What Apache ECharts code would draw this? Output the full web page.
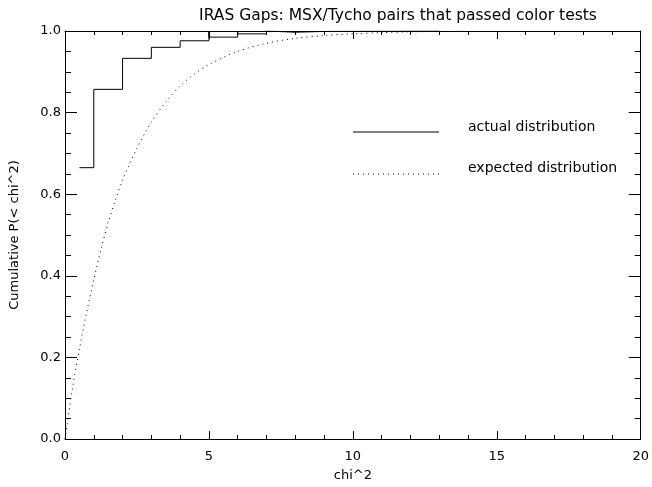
<!DOCTYPE html>
<html>
<head>
<meta charset="utf-8">
<script src="https://cdn.jsdelivr.net/npm/echarts@6/dist/echarts.min.js"></script>
<style>
  html, body { margin: 0; padding: 0; background: #fff; }
  #main { width: 652px; height: 487px; }
</style>
</head>
<body>
<div id="main"></div>
<script>
// actual distribution: bin edges and cumulative values (step plot)
const actualEdges = [0.5, 1, 2, 3, 4, 5, 6, 7, 8, 9, 13]
const actualValues = [0.665, 0.857, 0.933, 0.960, 0.976, 0.985, 0.993, 0.997, 0.999, 1.0]
// edges where the plotted line spikes up to the top frame
const spikeEdges = [5, 6, 7, 8]

// expected distribution (dotted curve)
const expectedX = [0, 0.25, 0.5, 0.75, 1, 1.25, 1.5, 1.75, 2, 2.25, 2.5, 2.75, 3, 3.5, 4, 4.5, 5, 6, 7, 8, 9, 10, 11, 12, 13, 14]
const expectedY = [0.0, 0.12, 0.22, 0.31, 0.39, 0.465, 0.53, 0.585, 0.635, 0.675, 0.713, 0.747, 0.777, 0.826, 0.865, 0.895, 0.918, 0.95, 0.97, 0.982, 0.989, 0.993, 0.996, 0.998, 0.999, 1.0]

const xTicks = { min: 0, max: 20, interval: 5 }
const yTicks = { min: 0, max: 1, interval: 0.2 }

const font = 'DejaVu Sans'

let stepData = []
actualValues.forEach((v, i) => {
  const a = actualEdges[i]
  const b = actualEdges[i + 1]
  stepData.push([a, v])
  stepData.push([b, v])
  if (spikeEdges.indexOf(b) >= 0) {
    stepData.push([b, 1.0])
  }
})
const expectedData = expectedX.map((x, i) => [x, expectedY[i]])

const chart = echarts.init(document.getElementById('main'))

const baseX = {
  type: 'value',
  min: xTicks.min,
  max: xTicks.max,
  interval: xTicks.interval,
  axisLine: { show: true, onZero: false, lineStyle: { color: '#000', width: 1 } },
  axisTick: { show: true, inside: true, length: 8, lineStyle: { color: '#000' } },
  minorTick: { show: true, splitNumber: 5, length: 4, lineStyle: { color: '#000' } },
  splitLine: { show: false }
}
const baseY = {
  type: 'value',
  min: yTicks.min,
  max: yTicks.max,
  interval: yTicks.interval,
  axisLine: { show: true, onZero: false, lineStyle: { color: '#000', width: 1 } },
  axisTick: { show: true, inside: true, length: 12, lineStyle: { color: '#000' } },
  minorTick: { show: true, splitNumber: 4, length: 6, lineStyle: { color: '#000' } },
  splitLine: { show: false }
}

const option = {
  animation: false,
  backgroundColor: '#fff',
  textStyle: { fontFamily: font, color: '#000' },
  grid: { left: 64, right: 11, top: 31, bottom: 47 },
  title: {
    text: 'IRAS Gaps: MSX/Tycho pairs that passed color tests',
    left: 393,
    top: 3,
    textAlign: 'center',
    textStyle: { fontFamily: font, fontSize: 15.5, fontWeight: 'normal', color: '#000' }
  },
  xAxis: [
    Object.assign({}, baseX, {
      position: 'bottom',
      name: 'chi^2',
      nameLocation: 'middle',
      nameGap: 30,
      nameTextStyle: { fontFamily: font, fontSize: 13, color: '#000' },
      axisLabel: { show: true, margin: 11, fontFamily: font, fontSize: 13, color: '#000' }
    }),
    Object.assign({}, baseX, { position: 'top', axisLabel: { show: false } })
  ],
  yAxis: [
    Object.assign({}, baseY, {
      position: 'left',
      name: 'Cumulative P(< chi^2)',
      nameLocation: 'middle',
      nameGap: 44,
      nameTextStyle: { fontFamily: font, fontSize: 13, color: '#000' },
      axisLabel: {
        show: true, margin: 4, fontFamily: font, fontSize: 13, color: '#000',
        formatter: v => v.toFixed(1)
      }
    }),
    Object.assign({}, baseY, { position: 'right', axisLabel: { show: false } })
  ],
  graphic: [
    { type: 'line', shape: { x1: 353, y1: 132, x2: 439, y2: 132 }, style: { stroke: '#000', lineWidth: 1 } },
    { type: 'text', left: 468, top: 120, style: { text: 'actual distribution', font: '14px "DejaVu Sans"', fill: '#000' } },
    { type: 'line', shape: { x1: 353, y1: 174, x2: 439, y2: 174 }, style: { stroke: '#000', lineWidth: 1, lineDash: [1, 4] } },
    { type: 'text', left: 468, top: 161, style: { text: 'expected distribution', font: '14px "DejaVu Sans"', fill: '#000' } }
  ],
  series: [
    {
      name: 'actual distribution',
      type: 'line',
      xAxisIndex: 0,
      yAxisIndex: 0,
      data: stepData,
      showSymbol: false,
      symbol: 'none',
      lineStyle: { color: '#000', width: 1 },
      clip: true
    },
    {
      name: 'expected distribution',
      type: 'line',
      xAxisIndex: 0,
      yAxisIndex: 0,
      data: expectedData,
      smooth: 0.3,
      showSymbol: false,
      symbol: 'none',
      lineStyle: { color: '#000', width: 1, type: [1, 4] },
      clip: true
    }
  ]
}

chart.setOption(option)
window.addEventListener('resize', () => {
  chart.resize()
})
</script>
</body>
</html>
